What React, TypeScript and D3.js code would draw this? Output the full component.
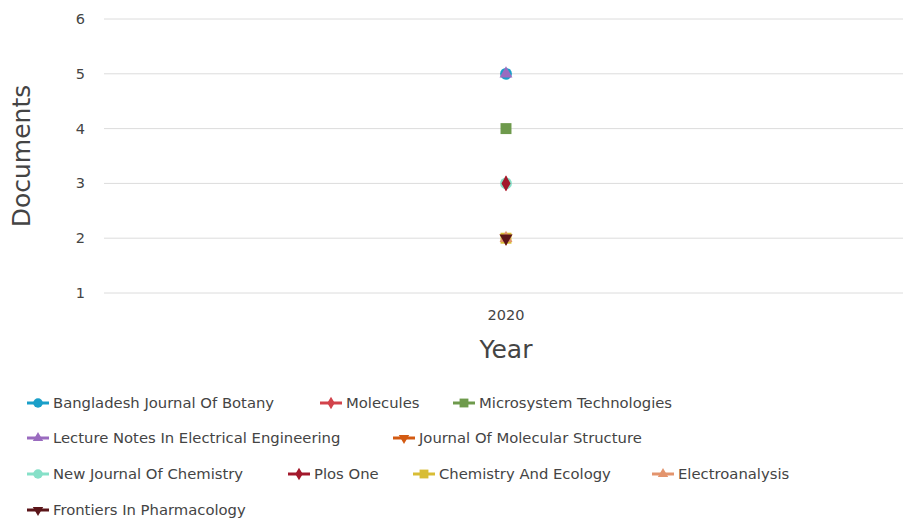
import React, { useEffect, useRef } from "react";
import * as d3 from "d3";

const years = ["2020"];
const yTicks = [1, 2, 3, 4, 5, 6];

const journals = [
  "Bangladesh Journal Of Botany",
  "Molecules",
  "Microsystem Technologies",
  "Lecture Notes In Electrical Engineering",
  "Journal Of Molecular Structure",
  "New Journal Of Chemistry",
  "Plos One",
  "Chemistry And Ecology",
  "Electroanalysis",
  "Frontiers In Pharmacology",
];
const documents = [5, 3, 4, 5, 2, 3, 3, 2, 2, 2];
const colors = [
  "#1a9fc9",
  "#d2434b",
  "#6e9a4c",
  "#9a6bbf",
  "#d35a12",
  "#86e0c8",
  "#a3192c",
  "#d8bd35",
  "#e3946d",
  "#5b1519",
];
const shapes = [
  d3.symbolCircle,
  d3.symbolDiamond,
  d3.symbolSquare,
  d3.symbolTriangle,
  "down",
  d3.symbolCircle,
  d3.symbolDiamond,
  d3.symbolSquare,
  d3.symbolTriangle,
  "down",
];

// legend layout (row, x start of the swatch)
const legendRow = [0, 0, 0, 1, 1, 2, 2, 2, 2, 3];
const legendX = [27, 320, 453, 27, 393, 27, 288, 413, 652, 27];

const W = 903;
const H = 520;

const App = () => {
  const ref = useRef<SVGSVGElement>(null);

  useEffect(() => {
    const svg = d3.select(ref.current);
    svg.selectAll("*").remove();

    const margin = { left: 104, right: -5, top: 19, bottom: 227 };
    const x = d3
      .scalePoint()
      .domain(years)
      .range([margin.left, W - margin.right])
      .padding(0.5);
    const y = d3
      .scaleLinear()
      .domain([1, 6])
      .range([H - margin.bottom, margin.top]);

    const font = "DejaVu Sans, Verdana, sans-serif";

    // grid
    svg
      .append("g")
      .selectAll("line")
      .data(yTicks)
      .enter()
      .append("line")
      .attr("x1", margin.left)
      .attr("x2", W - margin.right)
      .attr("y1", (d) => y(d))
      .attr("y2", (d) => y(d))
      .attr("stroke", "#dcdcdc")
      .attr("stroke-width", 1);

    svg
      .append("g")
      .selectAll("text")
      .data(yTicks)
      .enter()
      .append("text")
      .attr("x", 85)
      .attr("y", (d) => y(d))
      .attr("dy", "0.35em")
      .attr("text-anchor", "end")
      .attr("font-family", font)
      .attr("font-size", 14.5)
      .attr("fill", "#444")
      .text((d) => d);

    svg
      .append("g")
      .selectAll("text")
      .data(years)
      .enter()
      .append("text")
      .attr("x", (d) => x(d)!)
      .attr("y", 320)
      .attr("text-anchor", "middle")
      .attr("font-family", font)
      .attr("font-size", 14.5)
      .attr("fill", "#444")
      .text((d) => d);

    svg
      .append("text")
      .attr("x", x(years[0])!)
      .attr("y", 358)
      .attr("text-anchor", "middle")
      .attr("font-family", font)
      .attr("font-size", 25)
      .attr("fill", "#444")
      .text("Year");

    svg
      .append("text")
      .attr("transform", `translate(30, ${(y(1) + y(6)) / 2}) rotate(-90)`)
      .attr("text-anchor", "middle")
      .attr("font-family", font)
      .attr("font-size", 25)
      .attr("fill", "#444")
      .text("Documents");

    const sizeOf = (shape: any, k: number) => {
      if (shape === d3.symbolCircle) return 110 * k;
      if (shape === d3.symbolSquare) return 120 * k;
      return 72 * k;
    };
    const symbolPath = (shape: any, size: number) =>
      d3.symbol(shape === "down" ? d3.symbolTriangle : shape, size)();
    const rot = (shape: any) => (shape === "down" ? " rotate(180)" : "");

    // points
    svg
      .append("g")
      .selectAll("path")
      .data(journals)
      .enter()
      .append("path")
      .attr("d", (d, i) => symbolPath(shapes[i], sizeOf(shapes[i], 1)))
      .attr(
        "transform",
        (d, i) => `translate(${x(years[0])},${y(documents[i])})${rot(shapes[i])}`
      )
      .attr("fill", (d, i) => colors[i]);

    // legend
    const rowY = [403, 438, 474, 510];
    const lg = svg
      .append("g")
      .selectAll("g")
      .data(journals)
      .enter()
      .append("g")
      .attr("transform", (d, i) => `translate(${legendX[i]},${rowY[legendRow[i]]})`);

    lg.append("line")
      .attr("x1", 0)
      .attr("x2", 22)
      .attr("stroke", (d, i) => colors[i])
      .attr("stroke-width", 3);
    lg.append("path")
      .attr("d", (d, i) => symbolPath(shapes[i], sizeOf(shapes[i], 0.65)))
      .attr("transform", (d, i) => `translate(11,0)${rot(shapes[i])}`)
      .attr("fill", (d, i) => colors[i]);
    lg.append("text")
      .attr("x", 26)
      .attr("dy", "0.35em")
      .attr("font-family", font)
      .attr("font-size", 14.8)
      .attr("fill", "#444")
      .text((d) => d);
  }, []);

  return (
    <svg
      ref={ref}
      width={W}
      height={H}
      style={{ position: "absolute", left: 0, top: 0, background: "#fff" }}
    />
  );
};

export default App;
